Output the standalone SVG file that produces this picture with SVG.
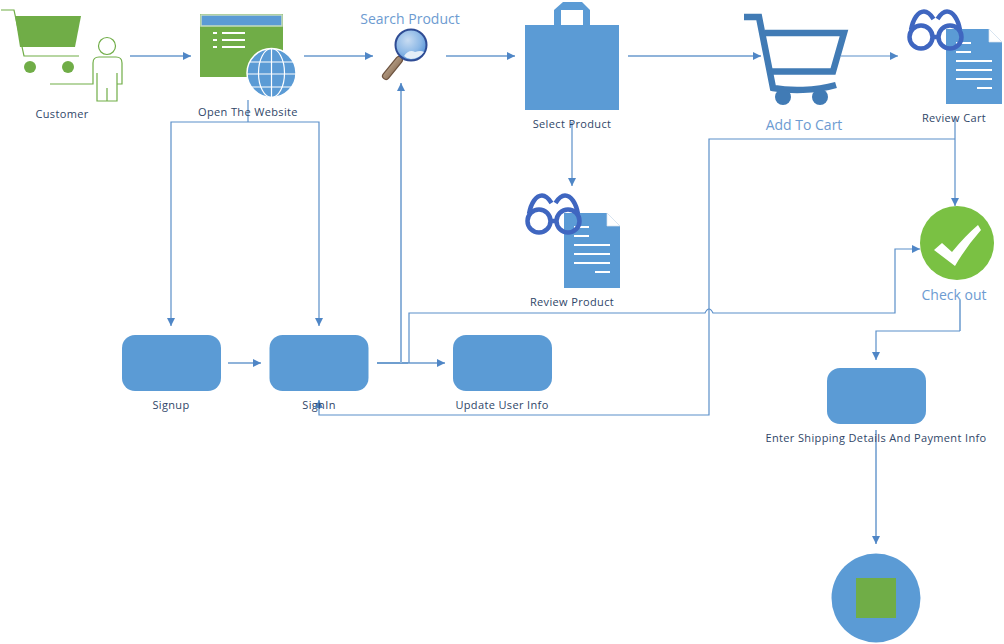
<svg xmlns="http://www.w3.org/2000/svg" width="1004" height="644" viewBox="0 0 1004 644">
<style>
text{font-family:"Open Sans","Liberation Sans",sans-serif;text-anchor:middle}
.d{font-size:11px;fill:#2f4668;letter-spacing:.36px}
.b{font-size:14px;fill:#6d9bd1}
.c{fill:none;stroke:#5b8fc9;stroke-width:1.2}
.t{fill:none;stroke:#8fb3da;stroke-width:2}
.bl{fill:#5b9bd5}
.gl{fill:none;stroke:#70ad47;stroke-width:1.2}
.w{stroke:#fff;stroke-width:2;fill:none}
.gls{fill:none;stroke:#3f66c0;stroke-width:4.500}
</style>
<defs>
<marker id="a" viewBox="0 0 10 10" refX="10" refY="5" markerWidth="8" markerHeight="8" markerUnits="userSpaceOnUse" orient="auto"><path d="M0 0L10 5L0 10z" fill="#4f86c6"/></marker>
<radialGradient id="lens" cx="0.4" cy="0.35" r="0.7"><stop offset="0" stop-color="#c8dcf2"/><stop offset="0.6" stop-color="#8cb8e6"/><stop offset="1" stop-color="#4f8fd6"/></radialGradient>
<linearGradient id="hdl" x1="0" y1="0" x2="1" y2="1"><stop offset="0" stop-color="#c9b39a"/><stop offset="1" stop-color="#7d6048"/></linearGradient>
<g id="doc">
<path d="M0 0H43L56 13V75H0z" class="bl"/>
<path d="M43 0L56 13H43z" fill="#fff" stroke="#d8e2ee" stroke-width="0.7"/>
<path d="M10 14H25M10 23H25M10 32H46M10 41H46M10 50H46M31 59H46" class="w"/>
</g>
<g id="glasses">
<circle cx="15" cy="28" r="11.500" class="gls"/>
<circle cx="44" cy="28" r="11.500" class="gls"/>
<path d="M5 21C7 10 12 2.500 18 2.500C22 2.500 25 6 27.500 10M54 21C52 10 47 2.500 41 2.500C37 2.500 34 6 31.500 10M26 28H33" class="gls"/>
</g>
</defs>

<g id="connectors">
<path class="t" d="M130 56H191" marker-end="url(#a)"/>
<path class="t" d="M304 56H373" marker-end="url(#a)"/>
<path class="t" d="M446 56H515" marker-end="url(#a)"/>
<path class="t" d="M628 56H761" marker-end="url(#a)"/>
<path class="c" d="M841 56H898" marker-end="url(#a)"/>
<path class="c" d="M248 100V122"/>
<path class="c" d="M248 122H171V326" marker-end="url(#a)"/>
<path class="c" d="M248 122H319V326" marker-end="url(#a)"/>
<path class="c" d="M572 122V186" marker-end="url(#a)"/>
<path class="c" d="M955 118V206" marker-end="url(#a)"/>
<path class="c" d="M955 139H709V415H319V400" marker-end="url(#a)"/>
<path class="t" d="M228 363H261" marker-end="url(#a)"/>
<path class="t" d="M377 363H445" marker-end="url(#a)"/>
<path class="c" d="M377 363H408" stroke-width="2"/>
<path class="t" d="M401 363V83" stroke-width="1.500" marker-end="url(#a)"/>
<path class="c" d="M409 363V313H705Q709 305 713 313H895V249H920" marker-end="url(#a)"/>
<path class="t" d="M960 300V331"/>
<path class="c" d="M960 331H876V360" marker-end="url(#a)"/>
<path class="t" d="M876 430V544" marker-end="url(#a)"/>
</g>

<g id="customer">
<path d="M15 16H81L75 47H20z" fill="#70ad47"/>
<path class="gl" d="M1 10H14L24 56H79"/>
<circle cx="30" cy="67" r="6" fill="#70ad47"/>
<circle cx="68" cy="67" r="6" fill="#70ad47"/>
<circle cx="107" cy="46" r="8.500" class="gl"/>
<path class="gl" d="M50 84H93V63Q93 57 99 57H116Q122 57 122 63V84H117"/>
<path class="gl" d="M97 73V101H117V73M107 88V101"/>
<text class="d" x="62" y="118">Customer</text>
</g>

<g id="website">
<rect x="200" y="14" width="83" height="63" fill="#70ad47"/>
<rect x="201" y="15" width="81" height="11" fill="#5b9bd5" stroke="#c5dcc0" stroke-width="1.500"/>
<path d="M213 33H217M213 40H217M213 47H217M222 33H245M222 40H245M222 47H245" class="w"/>
<circle cx="271.500" cy="73" r="24.500" class="bl" stroke="#fff" stroke-width="1.500"/>
<path d="M247 74H296M271.500 48V98M250 62H293M250 87H293" stroke="#fff" stroke-width="1.200" fill="none"/>
<ellipse cx="271.500" cy="73" rx="13" ry="24.500" stroke="#fff" stroke-width="1.200" fill="none"/>
<text class="d" x="248" y="116">Open The Website</text>
</g>

<g id="search">
<path d="M399 60L386 76" stroke="#6d5340" stroke-width="8" stroke-linecap="round"/>
<path d="M399 60L386 76" stroke="url(#hdl)" stroke-width="5.500" stroke-linecap="round"/>
<circle cx="411" cy="45" r="15.500" fill="url(#lens)" stroke="#2f4c94" stroke-width="2"/>
<path d="M404 56Q409 49 415 52Q421 50 424 52Q419 59 411 59Q407 59 404 56z" fill="#e4eef8"/>
<text class="b" x="410" y="24">Search Product</text>
</g>

<g id="select">
<rect x="525" y="25" width="94" height="85" class="bl"/>
<path d="M554 25V10L563 2H582L590 10V25H583V10H561V25z" class="bl"/>
<text class="d" x="572" y="128">Select Product</text>
</g>

<g id="addcart">
<path d="M744 17H759L773 88C790 91 815 91 836 85M770 71.500H833L844 33H765" fill="none" stroke="#417bb5" stroke-width="6.500"/>
<circle cx="783" cy="97" r="8" fill="#417bb5"/>
<circle cx="820" cy="97" r="8" fill="#417bb5"/>
<text class="b" x="804" y="130">Add To Cart</text>
</g>

<g id="reviewcart">
<use href="#doc" x="946" y="29"/>
<use href="#glasses" x="906" y="9"/>
<text class="d" x="954" y="122">Review Cart</text>
</g>

<g id="reviewproduct">
<use href="#doc" x="564" y="213"/>
<use href="#glasses" x="524" y="193"/>
<text class="d" x="572" y="306">Review Product</text>
</g>

<g id="checkout">
<circle cx="957" cy="243" r="37" fill="#7ac143"/>
<path d="M934 250L942 243L952 252Q965 236 978 225L981 230Q966 247 955 266z" fill="#fff"/>
<text class="b" x="954" y="300">Check out</text>
</g>

<g id="signup">
<rect x="122" y="335" width="99" height="56" rx="13" class="bl"/>
<text class="d" x="171" y="409">Signup</text>
</g>
<g id="signin">
<rect x="269.500" y="335" width="99" height="56" rx="13" class="bl"/>
<text class="d" x="319" y="409">SignIn</text>
</g>
<g id="updateuser">
<rect x="453" y="335" width="99" height="56" rx="13" class="bl"/>
<text class="d" x="502" y="409">Update User Info</text>
</g>
<g id="shipping">
<rect x="827" y="368" width="99" height="56" rx="13" class="bl"/>
<text class="d" x="876" y="442">Enter Shipping Details And Payment Info</text>
</g>
<g id="end">
<circle cx="876" cy="598" r="44.500" class="bl"/>
<rect x="856" y="578" width="40" height="40" fill="#70ad47"/>
</g>
</svg>
